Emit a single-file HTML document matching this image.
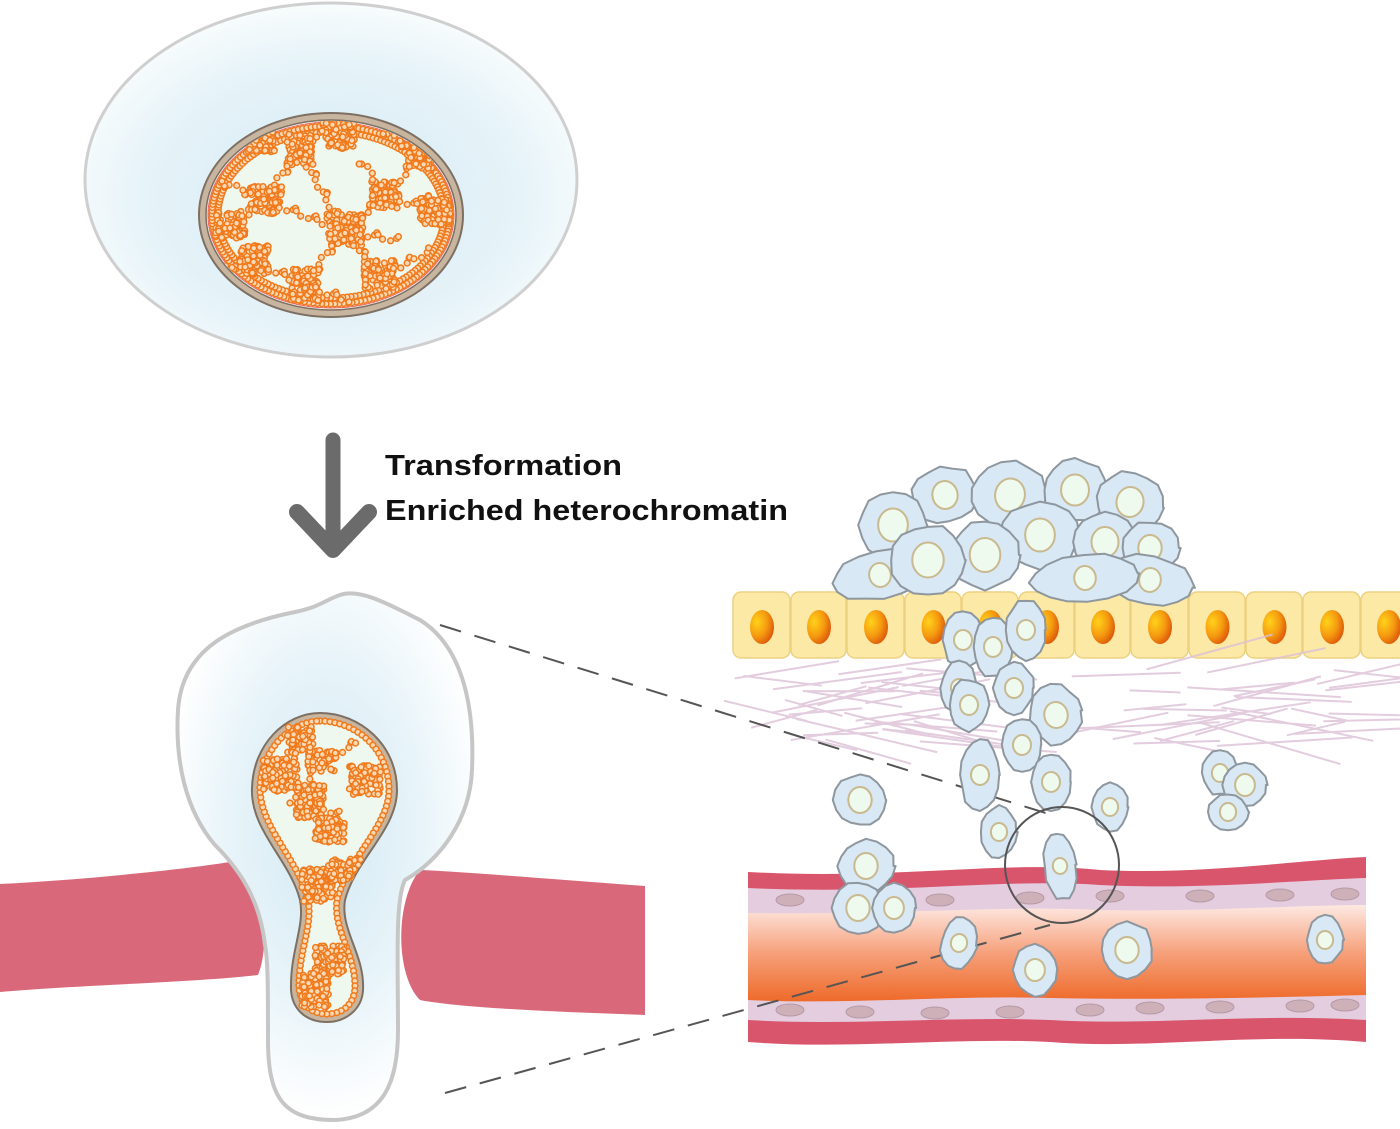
<!DOCTYPE html>
<html><head><meta charset="utf-8">
<style>html,body{margin:0;padding:0;background:#fff;}svg{display:block}</style>
</head><body>
<svg id="s" width="1400" height="1129" viewBox="0 0 1400 1129" xmlns="http://www.w3.org/2000/svg">
<defs>
<radialGradient id="cellg" cx="50%" cy="55%" r="55%">
<stop offset="0" stop-color="#d6ebf5"/><stop offset="0.7" stop-color="#e6f3f8"/><stop offset="1" stop-color="#f8fcfd"/>
</radialGradient>
<radialGradient id="cellg2" cx="50%" cy="45%" r="55%">
<stop offset="0" stop-color="#d3e9f4"/><stop offset="0.6" stop-color="#e8f4f9"/><stop offset="1" stop-color="#ffffff"/>
</radialGradient>
<linearGradient id="lumen" x1="0" y1="0" x2="0" y2="1">
<stop offset="0" stop-color="#fde9e2"/><stop offset="0.5" stop-color="#f6a07a"/><stop offset="1" stop-color="#ee6a2a"/>
</linearGradient>
<radialGradient id="ynuc" cx="30%" cy="35%" r="70%">
<stop offset="0" stop-color="#ffd21a"/><stop offset="0.6" stop-color="#f59a10"/><stop offset="1" stop-color="#e0600c"/>
</radialGradient>
<clipPath id="nuc1"><ellipse cx="331" cy="215" rx="124" ry="94"/></clipPath>
<clipPath id="nuc2"><path id="n2p" d="M320,713 C360,713 397,745 397,790 C397,830 355,860 345,900 C340,930 365,955 363,990 C362,1010 345,1022 327,1022 C305,1022 290,1008 291,985 C291,950 305,925 300,900 C290,860 250,830 252,788 C253,745 285,713 320,713 Z"/></clipPath>
</defs>

<ellipse cx="331" cy="180" rx="246" ry="177" fill="url(#cellg)" stroke="#cfcfcf" stroke-width="3"/>
<ellipse cx="331" cy="215" rx="132" ry="102" fill="#c7b59f" stroke="#7d6f62" stroke-width="2"/>
<ellipse cx="331" cy="215" rx="125" ry="95" fill="#eef8ee" stroke="#7d6f62" stroke-width="1.5"/>
<ellipse cx="331" cy="215" rx="123" ry="93" fill="none" stroke="#e66" stroke-width="1"/>
<g id="chr1" clip-path="url(#nuc1)"></g>

<line x1="333" y1="440" x2="333" y2="545" stroke="#6b6b6b" stroke-width="15" stroke-linecap="round"/>
<polyline points="297,512 333,550 369,512" fill="none" stroke="#6b6b6b" stroke-width="16" stroke-linecap="round" stroke-linejoin="round"/>
<text x="385" y="475" font-family="Liberation Sans, sans-serif" font-weight="bold" font-size="29" fill="#111" textLength="237" lengthAdjust="spacingAndGlyphs">Transformation</text>
<text x="385" y="520" font-family="Liberation Sans, sans-serif" font-weight="bold" font-size="29" fill="#111" textLength="403" lengthAdjust="spacingAndGlyphs">Enriched heterochromatin</text>

<path d="M0,884 C80,880 180,870 230,862 C262,880 272,940 258,975 C200,982 80,985 0,992 Z" fill="#d9687a"/>
<path d="M645,886 L645,1015 C560,1012 460,1008 420,1000 C395,975 395,900 420,870 C470,872 560,880 645,886 Z" fill="#d9687a"/>

<path d="M340,595 C360,588 390,605 420,620 C460,645 475,700 472,770 C470,820 440,860 405,880 C395,900 398,960 398,1030 C398,1080 385,1118 335,1120 C285,1120 268,1100 268,1040 C268,990 268,960 265,945 C260,900 240,870 215,845 C185,810 175,760 178,710 C182,650 230,625 295,612 C320,607 325,600 340,595 Z" fill="url(#cellg2)" stroke="#c6c6c6" stroke-width="4"/>
<use href="#n2p" fill="#c7b59f" stroke="#7d6f62" stroke-width="2"/>
<path d="M320,721 C355,721 389,748 389,790 C389,826 348,858 337,900 C333,930 356,955 355,988 C354,1005 342,1014 327,1014 C310,1014 299,1003 299,985 C299,950 313,925 308,900 C298,858 260,828 260,788 C261,750 290,721 320,721 Z" fill="#eef8ee" stroke="#e66" stroke-width="1.2" id="n2i"/>
<g id="chr2" clip-path="url(#nuc2)"></g>

<g id="epi"></g>
<g id="fib" stroke="#dcc0d6" stroke-width="2" opacity="0.8"></g>

<path d="M748,872 C900,880 1000,860 1100,870 C1200,875 1300,860 1366,857 L1366,1042 C1250,1032 1150,1050 1050,1042 C950,1037 850,1050 748,1042 Z" fill="#d9556c"/>
<path d="M748,888 C900,895 1000,878 1100,885 C1200,890 1300,880 1366,878 L1366,1020 C1250,1013 1150,1026 1050,1020 C950,1016 850,1026 748,1020 Z" fill="#e5cde0"/>
<path d="M748,913 C900,915 1000,905 1100,910 C1200,912 1300,905 1366,905 L1366,995 C1250,998 1150,1000 1050,998 C950,995 850,1005 748,1000 Z" fill="url(#lumen)"/>
<g id="endo"></g>

<line x1="440" y1="625" x2="1052" y2="815" stroke="#555" stroke-width="2" stroke-dasharray="22,14"/>
<line x1="445" y1="1093" x2="1050" y2="925" stroke="#555" stroke-width="2" stroke-dasharray="22,14"/>

<g id="cells"></g>
<ellipse cx="1062" cy="865" rx="57" ry="58" fill="none" stroke="#555" stroke-width="2"/>
</svg>
<script>
var NS="http://www.w3.org/2000/svg";
function el(p,t,a){var e=document.createElementNS(NS,t);for(var k in a)e.setAttribute(k,a[k]);document.getElementById(p).appendChild(e);return e;}
var seed=7;function r(){seed=(seed*16807)%2147483647;return seed/2147483647;}
function dot(g,x,y){el(g,"circle",{cx:x,cy:y,r:2.9,fill:"#fbd9b5",stroke:"#f07a1c","stroke-width":1.5});}
function clump(g,x,y,w,h){for(var i=0;i<w*h/10;i++){dot(g,x+(r()-0.5)*w,y+(r()-0.5)*h);}}
function chain(g,x1,y1,x2,y2){var n=Math.hypot(x2-x1,y2-y1)/4.5;for(var i=0;i<=n;i++){var t=i/n;dot(g,x1+(x2-x1)*t+Math.sin(i*1.3)*3,y1+(y2-y1)*t+Math.cos(i*1.3)*3);}}
for(var a=0;a<360;a+=2.1){var t=a*Math.PI/180;dot("chr1",331+119*Math.cos(t),215+89*Math.sin(t));dot("chr1",331+113*Math.cos(t),215+83*Math.sin(t));}
var C1=[[300,150],[345,230],[265,200],[385,195],[380,275],[255,260],[420,155],[305,285],[435,210],[230,225],[260,140],[340,135]];
C1.forEach(function(c){clump("chr1",c[0],c[1],26+r()*10,24+r()*8);});
var L1=[[300,150,345,230],[345,230,385,195],[265,200,345,230],[345,230,380,275],[385,195,420,155],[300,150,265,200],[255,260,305,285],[345,230,305,285],[385,195,435,210],[230,225,265,200],[300,150,330,120],[420,155,380,130],[380,275,430,250],[265,200,215,180],[345,230,400,240],[305,285,350,300],[385,195,360,160],[255,260,220,270]];
L1.forEach(function(l){chain("chr1",l[0],l[1],l[2],l[3]);});
var p=document.getElementById("n2i");var len=p.getTotalLength?p.getTotalLength():0;
for(var d=0;d<len;d+=5){var pt=p.getPointAtLength(d);dot("chr2",pt.x,pt.y);}
var C2=[[322,760],[310,800],[280,775],[365,780],[330,830],[318,885],[330,960],[315,990],[345,870],[300,740]];
C2.forEach(function(c){clump("chr2",c[0],c[1],22+r()*12,22+r()*14);});
chain("chr2",290,800,322,760);chain("chr2",322,760,360,740);chain("chr2",310,800,340,815);
var ex=733,ew=[58,56,58,57,57,56,56,58,57,57,58,56];
for(var i=0;i<12;i++){var w=ew[i];el("epi","rect",{x:ex,y:592,width:w-1,height:66,rx:8,fill:"#fde9a6",stroke:"#ecd180","stroke-width":1.5});
el("epi","ellipse",{cx:ex+w/2,cy:627,rx:12,ry:17,fill:"url(#ynuc)"});ex+=w;}
for(var i=0;i<70;i++){var left=r()<0.4;var x=left?720+r()*200:1065+r()*280,y=668+r()*78,L=50+r()*110,ang=(r()-0.5)*0.6;
el("fib","line",{x1:x,y1:y,x2:x+L*Math.cos(ang),y2:y+L*Math.sin(ang)});}
[[790,900],[860,902],[940,900],[1030,898],[1110,896],[1200,896],[1280,895],[1345,894]].forEach(function(c){
el("endo","ellipse",{cx:c[0],cy:c[1],rx:14,ry:6,fill:"#cdb0b8",stroke:"#b59aa6"});});
[[790,1010],[860,1012],[935,1013],[1010,1012],[1090,1010],[1150,1008],[1220,1007],[1300,1006],[1345,1005]].forEach(function(c){
el("endo","ellipse",{cx:c[0],cy:c[1],rx:14,ry:6,fill:"#cdb0b8",stroke:"#b59aa6"});});
var CL=[
[945,495,33,28,-10],[1010,495,38,33,10],[1075,490,32,31,0],[1130,502,34,30,10],[893,525,33,33,0],
[1040,535,40,33,0],[1105,542,32,30,0],[1150,548,29,26,0],[985,555,35,34,0],[880,575,48,24,-10],[1150,580,44,24,10],
[1085,578,55,24,-5],[928,560,37,35,0],
[963,640,20,28,0],[993,647,20,30,0],[1026,630,20,30,0],[959,688,18,26,0],[969,705,20,26,0],[1014,688,20,26,0],
[1056,715,26,30,-10],[1022,745,20,26,0],[980,775,20,36,0],[1051,782,20,28,0],[1110,807,18,24,0],[999,832,18,26,0],
[1060,866,16,34,-5],[860,800,26,26,0],[866,866,28,26,0],[858,908,26,26,0],[894,908,22,24,0],
[1220,773,18,22,0],[1245,785,22,22,0],[1228,812,20,18,0],[959,943,18,26,10],[1035,970,22,26,0],[1127,950,26,28,0],[1325,940,18,24,0]];
CL.forEach(function(c){var g=el("cells","g",{transform:"translate("+c[0]+","+c[1]+") rotate("+c[4]+")"});
var rx=c[2],ry=c[3];var d="";for(var k=0;k<=16;k++){var t=k/16*2*Math.PI,f=1+(r()-0.5)*0.12;d+=(k?"L":"M")+(rx*f*Math.cos(t)).toFixed(1)+","+(ry*f*Math.sin(t)).toFixed(1);}
var e=document.createElementNS(NS,"path");e.setAttribute("d",d+"Z");e.setAttribute("fill","#d8e8f4");e.setAttribute("stroke","#8e969e");e.setAttribute("stroke-width","2");e.setAttribute("stroke-linejoin","round");g.appendChild(e);
var n=document.createElementNS(NS,"ellipse");n.setAttribute("cx",0);n.setAttribute("cy",0);n.setAttribute("rx",Math.min(rx,ry)*0.45);n.setAttribute("ry",Math.min(rx,ry)*0.5);n.setAttribute("fill","#eefaee");n.setAttribute("stroke","#c9b98f");n.setAttribute("stroke-width","2");g.appendChild(n);});
</script>
</body></html>
